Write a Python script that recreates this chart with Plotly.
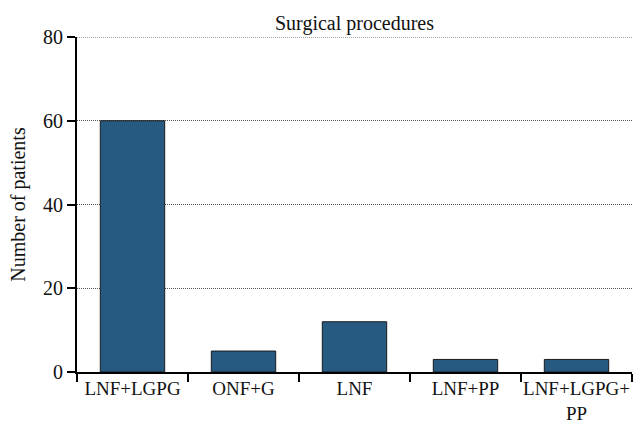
import plotly.graph_objects as go

categories = ["LNF+LGPG", "ONF+G", "LNF", "LNF+PP", "LNF+LGPG+<br>PP"]
patients = [60, 5, 12, 3, 3]
y_ticks = [0, 20, 40, 60, 80]

FONT = "Liberation Serif"
FS = 20

fig = go.Figure(go.Bar(
    x=categories, y=patients,
    marker=dict(color="#275a80", line=dict(color="#1a1a1a", width=1)),
    width=0.58,
))

fig.update_layout(
    width=642, height=422,
    margin=dict(l=77, r=10, t=37, b=50),
    plot_bgcolor="white", paper_bgcolor="white",
    font=dict(family=FONT, size=FS, color="#111111"),
    showlegend=False,
    annotations=[dict(text="Surgical procedures", x=0.5, xref="paper", y=1, yref="paper",
                      yanchor="bottom", xanchor="center", yshift=0, showarrow=False,
                      font=dict(family=FONT, size=FS, color="#111111"))],
    shapes=[dict(type="line", xref="paper", x0=0, x1=1, yref="y", y0=y_ticks[-1], y1=y_ticks[-1],
                 line=dict(color="#555555", width=1, dash="1px,1px"))],
)

fig.update_xaxes(
    showline=True, linecolor="black", linewidth=2,
    ticks="outside", tickson="boundaries", ticklen=8, tickwidth=2, tickcolor="black",
    showgrid=False, tickfont=dict(size=19), tickangle=0, automargin=False,
    ticklabelstandoff=-2,
)
fig.update_yaxes(
    range=[0, 80], tickvals=y_ticks,
    showline=True, linecolor="black", linewidth=2,
    ticks="outside", ticklen=8, tickwidth=2, tickcolor="black",
    showgrid=True, gridcolor="#555555", gridwidth=1, griddash="1px,1px",
    zeroline=False, automargin=False,
    title=dict(text="Number of patients", font=dict(size=FS), standoff=12),
    tickfont=dict(size=FS),
)

fig.write_html("out.html", config={"displayModeBar": False},
               post_script="document.body.style.margin='0';document.body.style.overflow='hidden';")
